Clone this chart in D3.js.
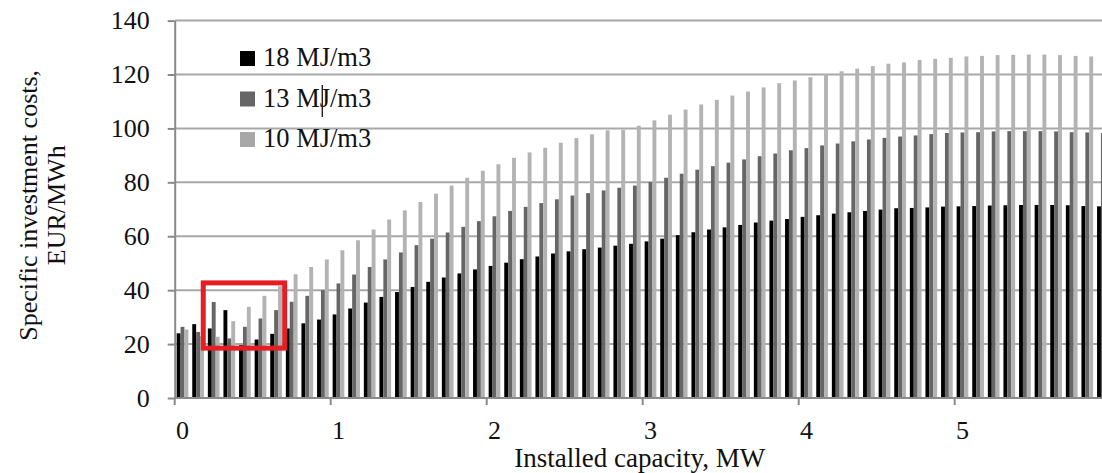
<!DOCTYPE html>
<html>
<head>
<meta charset="utf-8">
<script src="https://cdn.jsdelivr.net/npm/d3@7"></script>
<style>
  html, body { margin: 0; padding: 0; background: #fff; overflow: hidden; }
  text { font-family: "Liberation Serif", "Times New Roman", serif; fill: #111; }
</style>
</head>
<body>
<script>
// ---- Data ----
const categories = ["0.0","0.1","0.2","0.3","0.4","0.5","0.6","0.7","0.8","0.9",
  "1.0","1.1","1.2","1.3","1.4","1.5","1.6","1.7","1.8","1.9",
  "2.0","2.1","2.2","2.3","2.4","2.5","2.6","2.7","2.8","2.9",
  "3.0","3.1","3.2","3.3","3.4","3.5","3.6","3.7","3.8","3.9",
  "4.0","4.1","4.2","4.3","4.4","4.5","4.6","4.7","4.8","4.9",
  "5.0","5.1","5.2","5.3","5.4","5.5","5.6","5.7","5.8","5.9"];

const seriesNames = ["18 MJ/m3", "13 MJ/m3", "10 MJ/m3"];

const values18 = [24.0, 27.4, 25.8, 32.6, 19.6, 21.7, 23.8, 25.8, 27.7, 29.1,
  31.0, 33.2, 35.4, 37.5, 39.3, 41.2, 43.1, 44.7, 46.2, 47.7,
  49.0, 50.2, 51.5, 52.5, 53.6, 54.4, 55.2, 55.8, 56.5, 57.2,
  58.1, 59.1, 60.4, 61.5, 62.5, 63.3, 64.2, 65.1, 65.8, 66.4,
  67.2, 67.8, 68.4, 68.9, 69.4, 69.9, 70.4, 70.5, 70.7, 71.0,
  71.1, 71.2, 71.4, 71.5, 71.6, 71.6, 71.6, 71.5, 71.2, 71.1];

const values13 = [26.4, 24.5, 35.6, 22.1, 26.4, 29.5, 32.6, 35.7, 37.9, 40.0,
  42.5, 45.8, 48.6, 51.4, 54.0, 56.7, 59.1, 61.4, 63.5, 65.6,
  67.4, 69.4, 70.9, 72.3, 73.7, 75.1, 76.0, 77.0, 78.0, 78.8,
  80.1, 81.7, 83.2, 84.7, 86.0, 87.3, 88.5, 89.7, 90.7, 91.9,
  92.7, 93.7, 94.4, 95.2, 95.9, 96.5, 97.0, 97.4, 97.9, 98.3,
  98.5, 98.6, 98.9, 99.0, 99.0, 99.0, 98.9, 98.6, 98.5, 98.3];

const values10 = [25.4, 23.0, 22.7, 28.5, 33.8, 37.9, 41.5, 45.9, 48.6, 51.4,
  54.8, 58.5, 62.5, 66.2, 69.6, 72.7, 75.8, 78.8, 81.7, 84.3,
  86.7, 89.1, 91.1, 92.8, 94.7, 96.4, 97.8, 99.3, 99.5, 101.0,
  103.0, 105.1, 107.0, 108.9, 110.6, 112.2, 113.7, 115.2, 116.8, 117.8,
  119.0, 120.2, 121.2, 122.2, 123.1, 124.0, 124.5, 125.4, 125.8, 126.2,
  126.7, 126.9, 127.2, 127.3, 127.4, 127.4, 127.2, 126.9, 126.7, 126.5];

const xTickValues = [0, 1, 2, 3, 4, 5];
const xTickCategories = ["0.0", "1.0", "2.0", "3.0", "4.0", "5.0"];
const xTickLabels = ["0", "1", "2", "3", "4", "5"];
const yTicks = [0, 20, 40, 60, 80, 100, 120, 140];

// highlighted region (in data units: MW and EUR/MWh)
const highlightMW = [0.183, 0.705];
const highlightCost = [18.5, 42.7];

const seriesValues = [values18, values13, values10];
const colors = ["#000000", "#666666", "#b3b3b3"];
const legendColors = ["#000000", "#666666", "#a8a8a8"];

// ---- Layout ----
const W = 1102, H = 473;
const plotLeft = 174.7, step = 15.6;
const plotRight = plotLeft + step * categories.length;
const plotBottom = 398, plotTop = 20.6;

const svg = d3.select("body").append("svg").attr("width", W).attr("height", H);

const x = d3.scaleBand().domain(categories).range([plotLeft, plotRight])
  .paddingInner(0.25).paddingOuter(0.125);
const xs = d3.scaleBand().domain(seriesNames).range([0, x.bandwidth()]);
const xLin = d3.scaleLinear().domain([0, categories.length / 10]).range([plotLeft, plotRight]);
const y = d3.scaleLinear().domain([0, 140]).range([plotBottom, plotTop]);

// gridlines
svg.append("g").selectAll("line").data(yTicks.filter(d => d > 0)).join("line")
  .attr("x1", plotLeft).attr("x2", plotRight)
  .attr("y1", d => y(d)).attr("y2", d => y(d))
  .attr("stroke", "#a8a8a8").attr("stroke-width", 2);

// bars
const rows = categories.map((c, i) => ({ c, vals: seriesNames.map((s, k) => ({ s, k, v: seriesValues[k][i] })) }));
const groups = svg.append("g").selectAll("g").data(rows).join("g")
  .attr("transform", d => `translate(${x(d.c)},0)`);
groups.selectAll("rect").data(d => d.vals).join("rect")
  .attr("x", d => xs(d.s))
  .attr("width", xs.bandwidth())
  .attr("y", d => y(d.v))
  .attr("height", d => y(0) - y(d.v))
  .attr("fill", d => colors[d.k]);

// y axis
const yAxis = d3.axisLeft(y).tickValues(yTicks).tickSizeInner(7).tickSizeOuter(0).tickPadding(18);
const gy = svg.append("g").attr("transform", `translate(${plotLeft},0)`).call(yAxis);
gy.select(".domain").attr("stroke", "#8a8a8a").attr("stroke-width", 2);
gy.selectAll(".tick line").attr("stroke", "#8a8a8a").attr("stroke-width", 2);
gy.selectAll(".tick text").attr("font-family", "Liberation Serif, serif").attr("font-size", 26).attr("fill", "#111");

// x axis
svg.append("line").attr("x1", plotLeft).attr("x2", plotRight)
  .attr("y1", y(0)).attr("y2", y(0)).attr("stroke", "#8a8a8a").attr("stroke-width", 2);
svg.append("g").selectAll("line").data(xTickValues).join("line")
  .attr("x1", d => xLin(d)).attr("x2", d => xLin(d))
  .attr("y1", y(0)).attr("y2", y(0) + 7)
  .attr("stroke", "#8a8a8a").attr("stroke-width", 2);
svg.append("g").selectAll("text").data(xTickCategories).join("text")
  .attr("x", (d) => x(d) + x.bandwidth() / 2)
  .attr("y", 439)
  .attr("text-anchor", "middle")
  .attr("font-size", 26)
  .text((d, i) => xTickLabels[i]);

// axis titles
svg.append("text").attr("x", (plotLeft + plotRight) / 2 - 3).attr("y", 467)
  .attr("text-anchor", "middle").attr("font-size", 27).text("Installed capacity, MW");
const yTitle = svg.append("g").attr("transform", `translate(0,${(plotTop + plotBottom) / 2 - 4}) rotate(-90)`);
yTitle.append("text").attr("x", 0).attr("y", 37).attr("text-anchor", "middle")
  .attr("font-size", 26).text("Specific investment costs,");
yTitle.append("text").attr("x", 0).attr("y", 65).attr("text-anchor", "middle")
  .attr("font-size", 26).text("EUR/MWh");

// legend
const legend = svg.append("g").attr("transform", "translate(240,51)");
const li = legend.selectAll("g").data(seriesNames).join("g")
  .attr("transform", (d, i) => `translate(0,${i * 40.5})`);
li.append("rect").attr("width", 15).attr("height", 15).attr("fill", (d, i) => legendColors[i]);
li.append("text").attr("x", 23).attr("y", 15).attr("font-size", 26.5).text(d => d);
// text cursor mark visible in the original legend
svg.append("line").attr("x1", 322.3).attr("x2", 322.3).attr("y1", 85).attr("y2", 117)
  .attr("stroke", "#222").attr("stroke-width", 1.4);

// highlight box
svg.append("rect")
  .attr("x", xLin(highlightMW[0])).attr("width", xLin(highlightMW[1]) - xLin(highlightMW[0]))
  .attr("y", y(highlightCost[1])).attr("height", y(highlightCost[0]) - y(highlightCost[1]))
  .attr("fill", "none").attr("stroke", "#e31e24").attr("stroke-width", 5);
</script>
</body>
</html>
